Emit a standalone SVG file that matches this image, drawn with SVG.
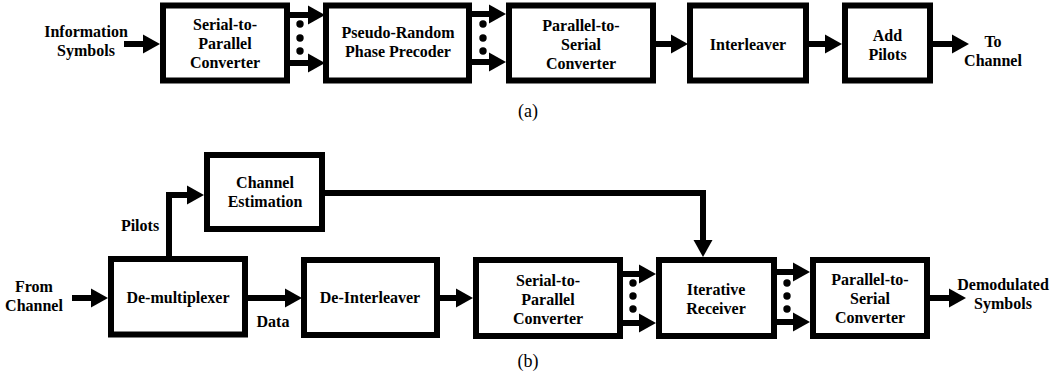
<svg xmlns="http://www.w3.org/2000/svg" width="1055" height="381" viewBox="0 0 1055 381">
<style>
.box{fill:#fff;stroke:#000;stroke-width:6}
.t{font-family:"Liberation Serif","Times New Roman",serif;font-weight:bold;font-size:16px;text-anchor:middle;fill:#000}
.cap{font-family:"Liberation Serif","Times New Roman",serif;font-size:18px;text-anchor:middle;fill:#000}
.ln{fill:none;stroke:#000;stroke-width:6;marker-end:url(#ah)}
.pl{fill:none;stroke:#000;stroke-width:6}
.dot{fill:#000}
</style>
<defs>
<marker id="ah" markerUnits="userSpaceOnUse" markerWidth="17" markerHeight="19" refX="2" refY="9.5" orient="auto" overflow="visible">
<path d="M0,0 L17,9.5 L0,19 Z" fill="#000"/>
</marker>
</defs>
<rect width="1055" height="381" fill="#fff"/>

<g id="connectors">
<path class="ln" d="M124,44 H145"/>
<path class="ln" d="M290,15 H310"/>
<path class="ln" d="M290,63 H310"/>
<path class="ln" d="M472,14 H491"/>
<path class="ln" d="M472,62 H491"/>
<path class="ln" d="M656,44 H673"/>
<path class="ln" d="M809,44 H827"/>
<path class="ln" d="M933,44 H954"/>
<path class="ln" d="M72,298 H93"/>
<path class="ln" d="M169,257 V195 H189"/>
<path class="pl" d="M325,193 H703 V226"/>
<path class="ln" d="M703,222 V242"/>
<path class="ln" d="M248,298 H287"/>
<path class="ln" d="M440,298 H458"/>
<path class="ln" d="M623,274 H641"/>
<path class="ln" d="M623,323 H641"/>
<path class="ln" d="M777,272 H795"/>
<path class="ln" d="M777,322 H795"/>
<path class="ln" d="M930,298 H951"/>
<g id="dots">
<circle class="dot" cx="300" cy="24" r="3.7"/><circle class="dot" cx="300" cy="38" r="3.7"/><circle class="dot" cx="300" cy="51" r="3.7"/>
<circle class="dot" cx="483" cy="24" r="3.7"/><circle class="dot" cx="483" cy="38" r="3.7"/><circle class="dot" cx="483" cy="51" r="3.7"/>
<circle class="dot" cx="633" cy="283" r="3.7"/><circle class="dot" cx="633" cy="296" r="3.7"/><circle class="dot" cx="633" cy="309" r="3.7"/>
<circle class="dot" cx="787" cy="283" r="3.7"/><circle class="dot" cx="787" cy="296" r="3.7"/><circle class="dot" cx="787" cy="309" r="3.7"/>
</g>
</g>

<g id="labels">
<text class="t" x="86" y="37">Information</text>
<text class="t" x="86" y="56">Symbols</text>
<text class="t" x="993" y="47">To</text>
<text class="t" x="993" y="66">Channel</text>
<text class="cap" x="528" y="117">(a)</text>
<text class="t" x="34" y="292">From</text>
<text class="t" x="34" y="311">Channel</text>
<text class="t" x="140" y="231">Pilots</text>
<text class="t" x="273" y="327">Data</text>
<text class="t" x="1003" y="290">Demodulated</text>
<text class="t" x="1003" y="309">Symbols</text>
<text class="cap" x="528" y="367">(b)</text>
</g>

<g id="s2p_a">
<rect class="box" x="163" y="5.5" width="124" height="75"/>
<text class="t" x="225" y="30">Serial-to-</text>
<text class="t" x="225" y="49">Parallel</text>
<text class="t" x="225" y="68">Converter</text>
</g>
<g id="prpp">
<rect class="box" x="326" y="5.5" width="143" height="75"/>
<text class="t" x="398" y="38">Pseudo-Random</text>
<text class="t" x="398" y="57">Phase Precoder</text>
</g>
<g id="p2s_a">
<rect class="box" x="509" y="5.5" width="144" height="75"/>
<text class="t" x="581" y="31">Parallel-to-</text>
<text class="t" x="581" y="50">Serial</text>
<text class="t" x="581" y="69">Converter</text>
</g>
<g id="interleaver">
<rect class="box" x="690" y="5.5" width="116" height="75"/>
<text class="t" x="748" y="50">Interleaver</text>
</g>
<g id="addpilots">
<rect class="box" x="845" y="5.5" width="85" height="75"/>
<text class="t" x="887.5" y="41">Add</text>
<text class="t" x="887.5" y="60">Pilots</text>
</g>

<g id="chest">
<rect class="box" x="207" y="155" width="115" height="74"/>
<text class="t" x="265" y="188">Channel</text>
<text class="t" x="265" y="207">Estimation</text>
</g>
<g id="demux">
<rect class="box" x="111" y="259" width="134" height="75.5"/>
<text class="t" x="178" y="303">De-multiplexer</text>
</g>
<g id="deinterleaver">
<rect class="box" x="304" y="260" width="133" height="75"/>
<text class="t" x="370" y="303">De-Interleaver</text>
</g>
<g id="s2p_b">
<rect class="box" x="476" y="260" width="144" height="76"/>
<text class="t" x="548" y="286">Serial-to-</text>
<text class="t" x="548" y="305">Parallel</text>
<text class="t" x="548" y="324">Converter</text>
</g>
<g id="iterative">
<rect class="box" x="659" y="260" width="115" height="76"/>
<text class="t" x="716" y="295">Iterative</text>
<text class="t" x="716" y="314">Receiver</text>
</g>
<g id="p2s_b">
<rect class="box" x="813" y="260" width="114" height="76"/>
<text class="t" x="870" y="285">Parallel-to-</text>
<text class="t" x="870" y="304">Serial</text>
<text class="t" x="870" y="323">Converter</text>
</g>
</svg>
